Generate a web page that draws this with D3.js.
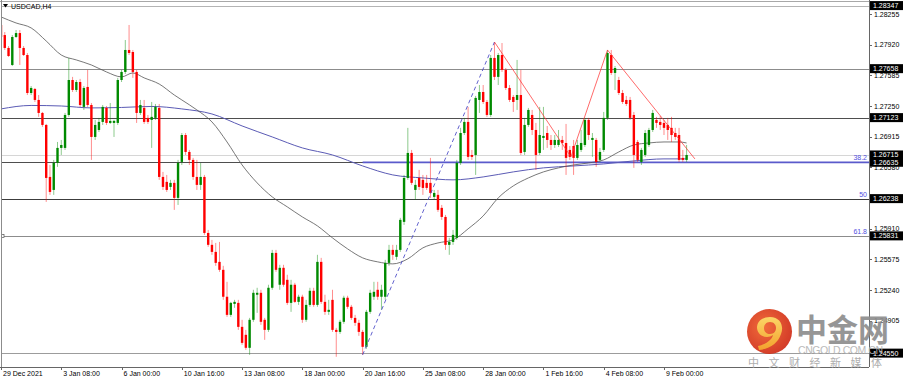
<!DOCTYPE html>
<html lang="en">
<head>
<meta charset="UTF-8" />
<title>USDCAD,H4</title>
<script src="https://d3js.org/d3.v7.min.js"></script>
<style>
  body { margin: 0; background: #fff; }
  svg { display: block; font-family: "Liberation Sans", Arial, sans-serif; }
  .axis text { font-size: 7px; fill: #000; }
  .axis path, .axis line { stroke: #666; shape-rendering: crispEdges; }
</style>
</head>
<body>
<svg id="chart" width="903" height="381"></svg>
<script>
// H4 bars from 29 Dec 2021 16:00, [open, high, low, close]
const candles = [
  [1.28135,1.28223,1.27971,1.28004],[1.28025,1.28058,1.27862,1.27884],[1.27884,1.27905,1.27786,1.27796],[1.27698,1.28025,1.27687,1.28004],
  [1.28004,1.28080,1.27993,1.28047],[1.28047,1.28080,1.27698,1.27884],[1.27884,1.27905,1.27796,1.27807],[1.27807,1.27829,1.27370,1.27392],
  [1.27392,1.27468,1.27370,1.27447],[1.27436,1.27447,1.27294,1.27316],[1.27316,1.27370,1.27131,1.27174],[1.27174,1.27185,1.27022,1.27043],
  [1.27043,1.27054,1.26202,1.26464],[1.26475,1.26606,1.26279,1.26311],[1.26333,1.26661,1.26279,1.26628],[1.26628,1.26857,1.26585,1.26792],
  [1.26792,1.26879,1.26715,1.26824],[1.26792,1.27174,1.26770,1.27152],[1.27152,1.27775,1.27131,1.27534],[1.27534,1.27568,1.27403,1.27425],
  [1.27425,1.27534,1.27403,1.27512],[1.27512,1.27546,1.27240,1.27261],[1.27240,1.27468,1.27207,1.27447],[1.27458,1.27644,1.27240,1.27261],
  [1.27261,1.27283,1.26661,1.26912],[1.26912,1.27098,1.26879,1.27043],[1.26988,1.27120,1.26966,1.27076],[1.27076,1.27261,1.27043,1.27240],
  [1.27229,1.27250,1.27043,1.27065],[1.27065,1.27283,1.27054,1.27087],[1.27065,1.27098,1.26912,1.27087],[1.27065,1.27557,1.27043,1.27534],
  [1.27534,1.27644,1.27512,1.27622],[1.27622,1.27971,1.27600,1.27862],[1.27862,1.28135,1.27807,1.27829],[1.27840,1.27862,1.27557,1.27622],
  [1.27622,1.27644,1.27065,1.27174],[1.27174,1.27316,1.27152,1.27261],[1.27229,1.27316,1.27054,1.27076],[1.27120,1.27152,1.27054,1.27076],
  [1.27098,1.27294,1.26792,1.27131],[1.27120,1.27272,1.27098,1.27240],[1.27229,1.27272,1.26443,1.26475],[1.26475,1.26530,1.26333,1.26366],
  [1.26421,1.26497,1.26311,1.26333],[1.26366,1.26443,1.26333,1.26410],[1.26410,1.26443,1.26115,1.26246],[1.26246,1.26661,1.26169,1.26628],
  [1.26639,1.26955,1.26606,1.26933],[1.26933,1.26955,1.26715,1.26748],[1.26748,1.26770,1.26606,1.26661],[1.26661,1.26683,1.26443,1.26475],
  [1.26475,1.26661,1.26333,1.26388],[1.26388,1.26628,1.26333,1.26475],[1.26475,1.26497,1.25842,1.25863],[1.25863,1.25896,1.25711,1.25733],
  [1.25733,1.25787,1.25624,1.25656],[1.25656,1.25754,1.25504,1.25536],[1.25547,1.25765,1.25438,1.25460],[1.25460,1.25504,1.25132,1.25166],
  [1.25166,1.25329,1.24946,1.24968],[1.24968,1.25110,1.24946,1.25099],[1.25088,1.25132,1.25045,1.25110],[1.25099,1.25132,1.24804,1.24837],
  [1.24837,1.24914,1.24641,1.24662],[1.24750,1.24804,1.24586,1.24608],[1.24608,1.24935,1.24531,1.24914],[1.24914,1.25242,1.24892,1.25209],
  [1.25188,1.25264,1.24990,1.25209],[1.25209,1.25242,1.24859,1.24892],[1.24914,1.24935,1.24695,1.24804],[1.24804,1.25297,1.24782,1.25264],
  [1.25264,1.25678,1.25242,1.25645],[1.25645,1.25678,1.25438,1.25460],[1.25297,1.25515,1.25242,1.25482],[1.25482,1.25515,1.25275,1.25297],
  [1.25351,1.25406,1.25077,1.25099],[1.25099,1.25351,1.25001,1.25297],[1.25297,1.25318,1.25099,1.25110],[1.25110,1.25188,1.25077,1.25166],
  [1.25166,1.25188,1.24881,1.24914],[1.24914,1.25132,1.24892,1.25077],[1.25077,1.25264,1.25056,1.25231],[1.25231,1.25264,1.25056,1.25077],
  [1.25077,1.25624,1.25056,1.25547],[1.25547,1.25591,1.25088,1.25110],[1.25110,1.25188,1.24968,1.25001],[1.25001,1.25132,1.24968,1.25023],
  [1.25132,1.25242,1.24782,1.24804],[1.24804,1.24826,1.24510,1.24782],[1.24782,1.24914,1.24760,1.24892],[1.24892,1.25177,1.24870,1.25155],
  [1.25155,1.25177,1.25034,1.25056],[1.25056,1.25077,1.24914,1.24935],[1.24935,1.24968,1.24848,1.24881],[1.24881,1.24914,1.24739,1.24782],
  [1.24782,1.24804,1.24531,1.24619],[1.24619,1.25023,1.24597,1.25001],[1.25001,1.25242,1.24979,1.25209],[1.25166,1.25329,1.25132,1.25220],
  [1.25242,1.25329,1.25132,1.25166],[1.25166,1.25297,1.25023,1.25242],[1.25166,1.25569,1.25132,1.25536],[1.25536,1.25733,1.25504,1.25678],
  [1.25678,1.25733,1.25569,1.25624],[1.25602,1.25733,1.25569,1.25678],[1.25678,1.26028,1.25656,1.26006],[1.25984,1.26497,1.25951,1.26464],
  [1.26464,1.27011,1.26443,1.26737],[1.26737,1.26770,1.26388,1.26410],[1.26333,1.26443,1.26224,1.26388],[1.26464,1.26552,1.26333,1.26366],
  [1.26443,1.26497,1.26279,1.26355],[1.26410,1.26497,1.26333,1.26355],[1.26410,1.26683,1.26246,1.26300],[1.26257,1.26333,1.26224,1.26300],
  [1.26279,1.26333,1.26093,1.26115],[1.26137,1.26169,1.26006,1.26038],[1.26038,1.26060,1.25678,1.25733],[1.25733,1.25809,1.25624,1.25765],
  [1.25765,1.25896,1.25733,1.25842],[1.25809,1.26661,1.25787,1.26628],[1.26628,1.27011,1.26606,1.26955],[1.26955,1.27120,1.26933,1.27076],
  [1.27076,1.27240,1.26661,1.26694],[1.26715,1.26770,1.26661,1.26694],[1.26715,1.27360,1.26497,1.27338],[1.27316,1.27479,1.27174,1.27403],
  [1.27403,1.27479,1.27272,1.27294],[1.27294,1.27316,1.27131,1.27152],[1.27152,1.27807,1.27131,1.27775],[1.27775,1.27949,1.27534,1.27568],
  [1.27568,1.27829,1.27479,1.27807],[1.27807,1.27938,1.27622,1.27644],[1.27644,1.27665,1.27425,1.27447],[1.27447,1.27479,1.27294,1.27316],
  [1.27349,1.27370,1.27185,1.27294],[1.27316,1.27753,1.27207,1.27370],[1.27370,1.27644,1.26715,1.26737],[1.26748,1.27120,1.26715,1.27043],
  [1.27043,1.27229,1.27022,1.27207],[1.27152,1.27207,1.26933,1.26988],[1.26988,1.27065,1.26552,1.26715],[1.26737,1.27240,1.26715,1.26933],
  [1.26901,1.27240,1.26770,1.26923],[1.26955,1.27032,1.26792,1.26879],[1.26879,1.26933,1.26770,1.26824],[1.26824,1.26933,1.26792,1.26879],
  [1.26824,1.26988,1.26803,1.26879],[1.26879,1.26923,1.26770,1.26846],[1.26846,1.27054,1.26497,1.26683],[1.26770,1.26813,1.26661,1.26694],
  [1.26813,1.26879,1.26497,1.26683],[1.26683,1.26879,1.26661,1.26824],[1.26770,1.26988,1.26748,1.26846],[1.26824,1.27120,1.26803,1.27098],
  [1.27098,1.27120,1.26879,1.26933],[1.26879,1.26955,1.26694,1.26901],[1.26879,1.26901,1.26585,1.26639],[1.26661,1.26792,1.26639,1.26748],
  [1.26770,1.27185,1.26748,1.27120],[1.27120,1.27862,1.27098,1.27829],[1.27807,1.27862,1.27589,1.27611],[1.27611,1.27687,1.27425,1.27665],
  [1.27534,1.27568,1.27370,1.27392],[1.27392,1.27425,1.27272,1.27294],[1.27316,1.27360,1.27250,1.27272],[1.27316,1.27349,1.27098,1.27120],
  [1.27152,1.27185,1.26574,1.26715],[1.26857,1.26879,1.26639,1.26661],[1.26639,1.26792,1.26606,1.26770],[1.26715,1.26988,1.26694,1.26955],
  [1.26824,1.27011,1.26803,1.26988],[1.26988,1.27207,1.26966,1.27174],[1.27098,1.27131,1.27011,1.27065],[1.27076,1.27141,1.26988,1.27043],
  [1.27065,1.27098,1.26933,1.27011],[1.27043,1.27120,1.26879,1.26988],[1.27011,1.27131,1.26857,1.26933],[1.26955,1.27011,1.26879,1.26912],
  [1.26933,1.27011,1.26639,1.26661],[1.26683,1.26770,1.26639,1.26661],[1.26661,1.26824,1.26639,1.26715]
];

// moving averages, read at sample bars
const maFastBars = [0,4,8,12,16,20,24,28,32,35,38,42,46,48,52,56,60,64,68,72,76,80,84,88,92,96,100,104,108,112,116,120,124,128,132,136,140,144,148,152,156,160,164,168,172,176,180,182];
const maFastVals = [1.28223,1.28157,1.28103,1.27960,1.27807,1.27753,1.27698,1.27622,1.27568,1.27611,1.27557,1.27490,1.27370,1.27316,1.27207,1.27076,1.26857,1.26606,1.26410,1.26257,1.26148,1.26038,1.25940,1.25809,1.25689,1.25591,1.25547,1.25525,1.25580,1.25700,1.25754,1.25787,1.25908,1.26049,1.26246,1.26377,1.26464,1.26530,1.26574,1.26606,1.26628,1.26661,1.26748,1.26824,1.26846,1.26857,1.26857,1.26846];
const maSlowBars = [0,8,16,24,32,40,48,56,64,72,80,88,96,104,112,120,128,136,144,152,160,168,176,182];
const maSlowVals = [1.27218,1.27256,1.27250,1.27229,1.27234,1.27245,1.27218,1.27163,1.27032,1.26912,1.26792,1.26715,1.26595,1.26497,1.26464,1.26443,1.26475,1.26530,1.26574,1.26595,1.26617,1.26650,1.26672,1.26672];

const yTicks = [1.28255,1.27920,1.27585,1.27250,1.26915,1.26580,1.26245,1.25910,1.25575,1.25240,1.24905,1.24570];
const xTickLabels = ["29 Dec 2021","3 Jan 08:00","6 Jan 00:00","10 Jan 16:00","13 Jan 08:00","18 Jan 00:00","20 Jan 16:00","25 Jan 08:00","28 Jan 00:00","1 Feb 16:00","4 Feb 08:00","9 Feb 00:00"];
const xTickEvery = 16;

const levels = [1.28347,1.27658,1.27123,1.26715,1.26635,1.26238,1.25831,1.24550];
const fibLabels = ["38.2","50","61.8"];
const fibPrices = [1.26635,1.26238,1.25831];
const fibStartBar = 96;

const trendBars = [96,131];
const trendPrices = [1.24531,1.27949];
const zigzagBars = [131,151.3,161,184.2];
const zigzagPrices = [1.27949,1.26694,1.27862,1.26672];

// layout
const W = 903, H = 381;
const plotLeft = 1, plotTop = 1, plotRight = 869, plotBottom = 367;
const barStep = 3.767;
const levelColors = ["#b4b4b4","#8c8c8c","#4e4e4e","#d6d6d6","#4e4e4e","#3c3c3c","#8c8c8c","#9c9c9c"];

const svg = d3.select("#chart");

const x = d3.scaleLinear().domain([0, 230]).range([plotLeft, plotLeft + 230 * barStep]);
const y = d3.scaleLinear().domain([1.24570, 1.28255]).range([351.3, 14]);

svg.append("defs").append("clipPath").attr("id", "plot")
  .append("rect").attr("x", plotLeft).attr("y", plotTop)
  .attr("width", plotRight - plotLeft).attr("height", plotBottom - plotTop);

const plot = svg.append("g").attr("clip-path", "url(#plot)");

// frame
svg.append("line").attr("x1", 0).attr("x2", plotRight).attr("y1", 1.5).attr("y2", 1.5)
  .attr("stroke", "#a8a8a8").attr("shape-rendering", "crispEdges");
svg.append("line").attr("x1", 1.5).attr("x2", 1.5).attr("y1", 0).attr("y2", plotBottom)
  .attr("stroke", "#8c8c8c").attr("shape-rendering", "crispEdges");

// horizontal levels
plot.selectAll("line.level")
  .data(levels)
  .enter()
  .append("line")
  .attr("class", "level")
  .attr("x1", plotLeft).attr("x2", plotRight)
  .attr("y1", d => Math.round(y(d)) + 0.5)
  .attr("y2", d => Math.round(y(d)) + 0.5)
  .attr("stroke", (d, i) => levelColors[i])
  .attr("stroke-width", 1);

// fibo 38.2 line
plot.append("line")
  .attr("x1", x(fibStartBar)).attr("x2", plotRight)
  .attr("y1", y(fibPrices[0])).attr("y2", y(fibPrices[0]))
  .attr("stroke", "#5a5acb").attr("stroke-width", 1.8);

// moving averages
const maLine = d3.line().curve(d3.curveMonotoneX);
plot.append("path")
  .attr("d", maLine(maSlowBars.map((b, i) => [x(b), y(maSlowVals[i])])))
  .attr("fill", "none").attr("stroke", "#5b5bb5").attr("stroke-width", 1);
plot.append("path")
  .attr("d", maLine(maFastBars.map((b, i) => [x(b), y(maFastVals[i])])))
  .attr("fill", "none").attr("stroke", "#555").attr("stroke-width", 0.8);

// candles
const bull = "#008a00", bear = "#ff0000";
const c = plot.selectAll("g.candle")
  .data(candles)
  .enter()
  .append("g")
  .attr("class", "candle");

c.append("line")
  .attr("x1", (d, i) => x(i)).attr("x2", (d, i) => x(i))
  .attr("y1", d => y(d[1])).attr("y2", d => y(d[2]))
  .attr("stroke", d => d[3] >= d[0] ? bull : bear)
  .attr("stroke-opacity", 0.45)
  .attr("stroke-width", 1);

c.append("rect")
  .attr("x", (d, i) => x(i) - 1.2)
  .attr("width", 2.4)
  .attr("y", d => y(Math.max(d[0], d[3])))
  .attr("height", d => Math.max(1, Math.abs(y(d[0]) - y(d[3]))))
  .attr("fill", d => d[3] >= d[0] ? bull : bear);

// trend line (dashed) and zigzag
plot.append("path")
  .attr("d", d3.line()(trendBars.map((b, i) => [x(b), y(trendPrices[i])])))
  .attr("fill", "none").attr("stroke", "#5050c8").attr("stroke-width", 0.9)
  .attr("stroke-dasharray", "4,3");
plot.append("path")
  .attr("d", d3.line()(zigzagBars.map((b, i) => [x(b), y(zigzagPrices[i])])))
  .attr("fill", "none").attr("stroke", "#ff3030").attr("stroke-opacity", 0.8).attr("stroke-width", 0.9);

// fibo labels
svg.selectAll("text.fib")
  .data(fibLabels)
  .enter()
  .append("text")
  .attr("class", "fib")
  .attr("x", plotRight - 2)
  .attr("y", (d, i) => y(fibPrices[i]) - 2)
  .attr("text-anchor", "end")
  .attr("font-size", 7)
  .attr("fill", "#5050e0")
  .text(d => d);

// small anchor marker at left
plot.append("rect")
  .attr("x", plotLeft).attr("y", y(levels[6]) - 1.5)
  .attr("width", 3).attr("height", 3)
  .attr("fill", "#fff").attr("stroke", "#555").attr("stroke-width", 0.7);

// axes
const yAxis = d3.axisRight(y).tickValues(yTicks).tickFormat(d3.format(".5f")).tickSize(3).tickPadding(2);
svg.append("g").attr("class", "axis").attr("transform", `translate(${plotRight},0)`)
  .call(yAxis)
  .call(g => g.select(".domain").attr("d", `M0.5,0V${plotBottom}`));

const xAxis = d3.axisBottom(x)
  .tickValues(xTickLabels.map((d, i) => i * xTickEvery))
  .tickFormat((d, i) => xTickLabels[i])
  .tickSize(3);
svg.append("g").attr("class", "axis").attr("transform", `translate(0,${plotBottom})`)
  .call(xAxis)
  .call(g => g.select(".domain").attr("d", `M0,0.5H${plotRight}`))
  .call(g => g.selectAll(".tick text").attr("text-anchor", "start").attr("x", 1.5).attr("y", 4));

// price boxes
const boxes = svg.selectAll("g.box")
  .data(levels)
  .enter()
  .append("g")
  .attr("class", "box")
  .attr("transform", d => `translate(${plotRight + 1},${y(d)})`);
boxes.append("rect").attr("x", 0).attr("y", -4.5).attr("width", W - plotRight).attr("height", 9).attr("fill", "#000");
boxes.append("text").attr("x", 3).attr("dy", "0.35em").attr("font-size", 7).attr("fill", "#fff")
  .text(d => d3.format(".5f")(d));

// title
svg.append("path").attr("d", "M3,4 L8,4 L5.5,7.5 Z").attr("fill", "#000");
svg.append("text").attr("x", 11).attr("y", 9).attr("font-size", 7).attr("fill", "#000").text("USDCAD,H4");

// watermark logo
const logo = svg.append("g").attr("opacity", 0.92);
const grad = svg.select("defs").append("radialGradient").attr("id", "disc").attr("cx", "40%").attr("cy", "40%").attr("r", "65%");
grad.append("stop").attr("offset", "0%").attr("stop-color", "#f0602a");
grad.append("stop").attr("offset", "100%").attr("stop-color", "#cf2a16");
const gold = svg.select("defs").append("linearGradient").attr("id", "gold").attr("x1", "0").attr("y1", "0").attr("x2", "0").attr("y2", "1");
gold.append("stop").attr("offset", "0%").attr("stop-color", "#fbd35a");
gold.append("stop").attr("offset", "100%").attr("stop-color", "#f39a1c");
logo.append("circle").attr("cx", 769.5).attr("cy", 331.5).attr("r", 22.5).attr("fill", "url(#disc)");
logo.append("path")
  .attr("d", "M770,317 C781,317 784,327 781,334 C778,343 770,349 759,350 L758,346 C766,344 772,340 773,335 C768,339 758,337 757,328 C757,321 763,317 770,317 Z M770,322 C766,322 764,325 764,328 C764,332 767,334 770,334 C774,334 776,331 776,328 C776,325 774,322 770,322 Z")
  .attr("fill", "url(#gold)").attr("fill-rule", "evenodd");
logo.append("text").attr("x", 796).attr("y", 341).attr("font-family", "'Noto Sans CJK SC', sans-serif")
  .attr("font-weight", "bold").attr("font-size", 31).attr("fill", "#8e8e8e").text("中金网");
logo.append("text").attr("x", 798).attr("y", 354).attr("font-size", 10.5).attr("fill", "#b5b5b5")
  .attr("textLength", 85).text("CNGOLD.COM.CN");
logo.append("text").attr("x", 748).attr("y", 367).attr("font-family", "'Noto Sans CJK SC', sans-serif")
  .attr("font-size", 11).attr("fill", "#a8a8a8").attr("letter-spacing", 9.5).text("中文财经新媒体");
</script>
</body>
</html>
